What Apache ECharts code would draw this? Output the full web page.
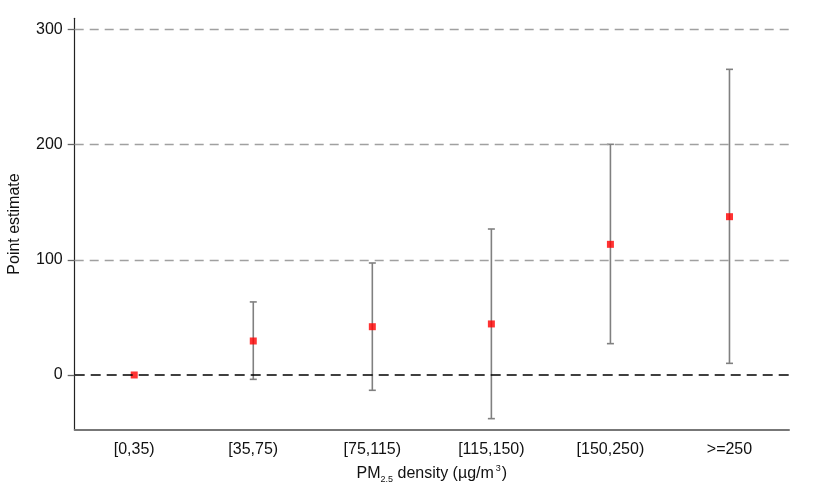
<!DOCTYPE html>
<html>
<head>
<meta charset="utf-8">
<script src="https://cdn.jsdelivr.net/npm/echarts@6/dist/echarts.min.js"></script>
<style>html,body{margin:0;padding:0;background:#fff}#c{width:840px;height:504px}</style>
</head>
<body>
<div id="c"></div>
<script>
var categories = ['[0,35)', '[35,75)', '[75,115)', '[115,150)', '[150,250)', '>=250'];
var estimates = [0, 29.5, 41.9, 44.3, 113.4, 137.4];
var lowerCI = [null, -3.8, -13.3, -37.9, 27.2, 10.1];
var upperCI = [null, 63.4, 97.2, 126.7, 200.2, 265.3];
var yTicks = [0, 100, 200, 300];
var yMin = -47.5, yMax = 309.6;

var chart = echarts.init(document.getElementById('c'));
var font = 'Liberation Sans, Arial, sans-serif';

var ciData = [];
for (var i = 0; i < categories.length; i++) {
  if (lowerCI[i] != null) ciData.push([i, lowerCI[i], upperCI[i]]);
}
var gridLines = yTicks.filter(function (v) { return v !== 0; }).map(function (v) { return { yAxis: v }; });

chart.setOption({
  animation: false,
  backgroundColor: '#fff',
  grid: { left: 74.7, right: 51, top: 18.3, bottom: 74.3, containLabel: false, outerBoundsMode: 'none' },
  xAxis: {
    type: 'category',
    data: categories,
    boundaryGap: true,
    axisLine: { onZero: false, lineStyle: { color: '#777', width: 2 } },
    axisTick: { alignWithLabel: true, interval: 0, length: 6, lineStyle: { color: '#666', width: 1.3 } },
    axisLabel: { interval: 0, margin: 12, color: '#111', fontSize: 16, fontFamily: font },
    splitLine: { show: false },
    name: '{n|PM}{s|2.5}{n| density (µg/m}{p|3}{n|)}',
    nameLocation: 'middle',
    nameGap: 34,
    nameTextStyle: {
      rich: {
        n: { fontSize: 16, fontFamily: font, color: '#111', lineHeight: 20 },
        s: { fontSize: 9, fontFamily: font, color: '#111', lineHeight: 11, verticalAlign: 'bottom' },
        p: { fontSize: 9, fontFamily: font, color: '#111', lineHeight: 8, verticalAlign: 'top', padding: [0, 1, 0, 2] }
      }
    }
  },
  yAxis: {
    type: 'value',
    min: yMin,
    max: yMax,
    axisLine: { show: true, onZero: false, lineStyle: { color: '#222', width: 1.2 } },
    axisTick: { show: true, customValues: yTicks, length: 7, lineStyle: { color: '#666', width: 1.3 } },
    axisLabel: { customValues: yTicks, margin: 12, color: '#111', fontSize: 16, fontFamily: font },
    splitLine: { show: false },
    name: 'Point estimate',
    nameLocation: 'middle',
    nameGap: 52,
    nameTextStyle: { fontSize: 16, fontFamily: font, color: '#111' }
  },
  series: [
    {
      type: 'line',
      data: [],
      z: 1,
      silent: true,
      markLine: {
        silent: true,
        symbol: 'none',
        label: { show: false },
        lineStyle: { color: '#a0a0a0', type: [9, 6], width: 1.3 },
        data: gridLines.concat([{ yAxis: 0, lineStyle: { color: '#000', type: [10, 6], width: 1.7 } }])
      }
    },
    {
      type: 'custom',
      z: 2,
      silent: true,
      data: ciData,
      encode: { x: 0, y: [1, 2] },
      renderItem: function (params, api) {
        var x = api.value(0);
        var lo = api.coord([x, api.value(1)]);
        var hi = api.coord([x, api.value(2)]);
        var hw = 3.5;
        var style = { stroke: '#808080', lineWidth: 1.6 };
        return {
          type: 'group',
          children: [
            { type: 'line', shape: { x1: lo[0], y1: lo[1], x2: hi[0], y2: hi[1] }, style: style },
            { type: 'line', shape: { x1: lo[0] - hw, y1: lo[1], x2: lo[0] + hw, y2: lo[1] }, style: style },
            { type: 'line', shape: { x1: hi[0] - hw, y1: hi[1], x2: hi[0] + hw, y2: hi[1] }, style: style }
          ]
        };
      }
    },
    {
      type: 'scatter',
      z: 3,
      data: estimates,
      symbol: 'rect',
      symbolSize: 7,
      itemStyle: { color: '#ff0000' }
    }
  ]
});
</script>
</body>
</html>
